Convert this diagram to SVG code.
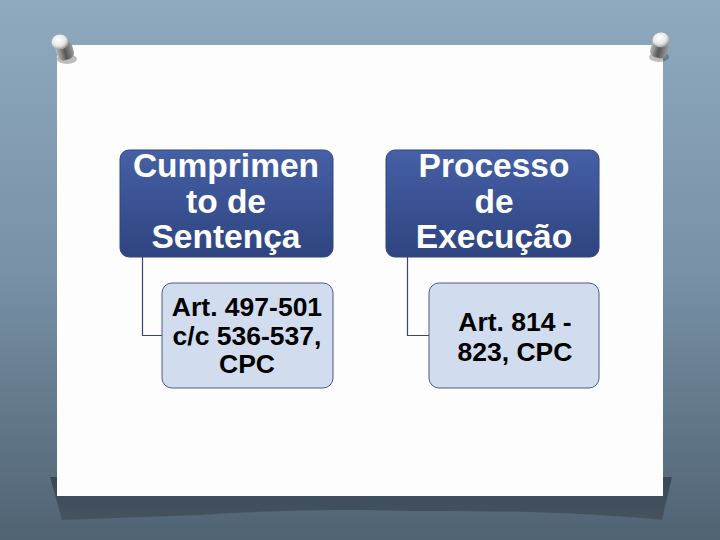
<svg xmlns="http://www.w3.org/2000/svg" width="720" height="540" viewBox="0 0 720 540">
<style>
.top{stroke:#34477a;stroke-width:1}
.sub{fill:#d1ddee;stroke:#4a5b8c;stroke-width:1}
.t1{font-family:"Liberation Sans",Arial,sans-serif;font-weight:bold;font-size:33.5px;fill:#ffffff;text-anchor:middle}
.t2{font-family:"Liberation Sans",Arial,sans-serif;font-weight:bold;font-size:26.5px;fill:#000000;text-anchor:middle}
.conn{fill:none;stroke:#3a4670;stroke-width:1.2}
</style>
<defs>
<linearGradient id="bg" x1="0" y1="0" x2="0" y2="1">
<stop offset="0" stop-color="#8fa9be"/>
<stop offset="0.5" stop-color="#7891a7"/>
<stop offset="1" stop-color="#506373"/>
</linearGradient>
<linearGradient id="tb" x1="0" y1="0" x2="0" y2="1">
<stop offset="0" stop-color="#4560a6"/>
<stop offset="1" stop-color="#2f4480"/>
</linearGradient>
<linearGradient id="shadow" x1="0" y1="0" x2="0" y2="1">
<stop offset="0" stop-color="#3a4955"/>
<stop offset="1" stop-color="#45535f"/>
</linearGradient>
<radialGradient id="pinhead" cx="0.4" cy="0.35" r="0.7">
<stop offset="0" stop-color="#ffffff"/>
<stop offset="0.6" stop-color="#e6e6e6"/>
<stop offset="1" stop-color="#8a8a8a"/>
</radialGradient>
<linearGradient id="shaft" x1="0" y1="0" x2="1" y2="0">
<stop offset="0" stop-color="#bbbbbb"/>
<stop offset="0.5" stop-color="#555555"/>
<stop offset="1" stop-color="#9a9a9a"/>
</linearGradient>
</defs>
<rect x="0" y="0" width="720" height="540" fill="url(#bg)"/>
<path d="M50,477 L672,477 L662,520 Q560,510 410,511 Q300,508 200,515 L62,520 Z" fill="url(#shadow)"/>
<rect x="57" y="45" width="606" height="451" fill="#fdfdfd"/>
<g id="pin-left">
<ellipse cx="67" cy="59" rx="10" ry="5" fill="#000" opacity="0.25"/>
<rect x="56" y="42" width="17" height="18" fill="url(#shaft)" rx="6" transform="rotate(-15 64 50)"/>
<ellipse cx="60" cy="42" rx="8.5" ry="7.5" fill="url(#pinhead)"/>
</g>
<g id="pin-right">
<ellipse cx="659" cy="57" rx="10" ry="5" fill="#000" opacity="0.25"/>
<rect x="651" y="40" width="17" height="18" fill="url(#shaft)" rx="6" transform="rotate(15 660 48)"/>
<ellipse cx="661" cy="40" rx="8.5" ry="7.5" fill="url(#pinhead)"/>
</g>
<g id="connectors">
<path class="conn" d="M142.5,257 V335.5 H162"/>
<path class="conn" d="M407.5,257 V335.5 H429"/>
</g>
<g id="node-cumprimento">
<rect class="top" x="120" y="150" width="213" height="107" rx="9" fill="url(#tb)"/>
<text class="t1" x="226" y="177">Cumprimen</text>
<text class="t1" x="226" y="213">to de</text>
<text class="t1" x="226" y="248">Sentença</text>
</g>
<g id="node-art497">
<rect class="sub" x="162" y="283" width="171" height="105" rx="10"/>
<text class="t2" x="247" y="316">Art. 497-501</text>
<text class="t2" x="247" y="345">c/c 536-537,</text>
<text class="t2" x="247" y="373">CPC</text>
</g>
<g id="node-processo">
<rect class="top" x="386" y="150" width="213" height="107" rx="9" fill="url(#tb)"/>
<text class="t1" x="494" y="177">Processo</text>
<text class="t1" x="494" y="213">de</text>
<text class="t1" x="494" y="248">Execução</text>
</g>
<g id="node-art814">
<rect class="sub" x="429" y="283" width="170" height="105" rx="10"/>
<text class="t2" x="515" y="331">Art. 814 -</text>
<text class="t2" x="515" y="361">823, CPC</text>
</g>
</svg>
